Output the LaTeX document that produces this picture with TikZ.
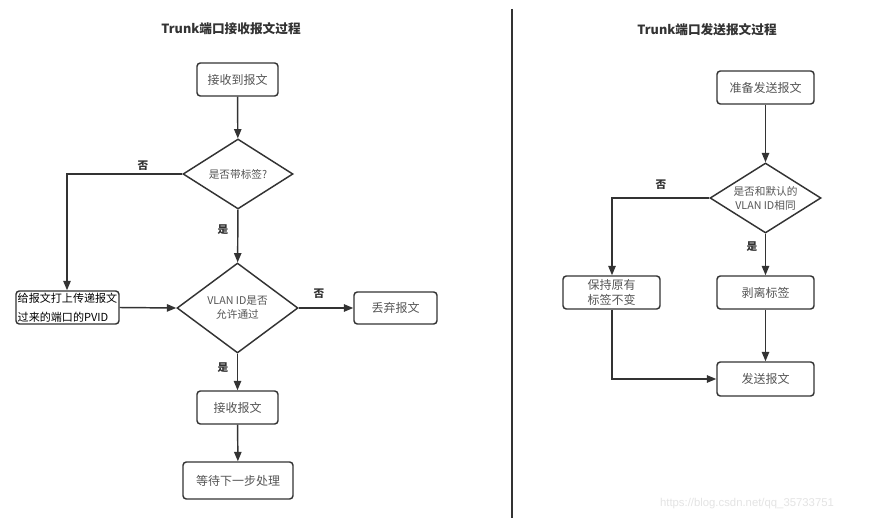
\documentclass[tikz,border=0pt]{standalone}
\usepackage{fontspec}
\setmainfont{Noto Sans CJK SC}
\newfontfamily\latinfont{Liberation Sans}
\usetikzlibrary{arrows.meta,shapes.geometric}
\definecolor{linegray}{HTML}{333333}
\definecolor{txtgray}{HTML}{555555}
\definecolor{markgray}{HTML}{E4E4E4}
\begin{document}
\begin{tikzpicture}[x=0.75pt,y=-0.75pt,
  flow/.style={draw=linegray,line width=1.1pt},
  arr/.style={flow,-{Triangle[length=7pt,width=5.5pt]}},
  stepbox/.style={draw=linegray,line width=1.1pt,rounded corners=2.5pt,
    inner sep=0pt,text=txtgray,font=\fontsize{9}{12}\selectfont,align=center},
  decide/.style={diamond,draw=linegray,line width=1.1pt,inner sep=0pt,
    text=txtgray,font=\fontsize{8}{10.5}\selectfont,align=center},
  lbl/.style={text=linegray,font=\fontsize{8}{10}\selectfont\bfseries},
  ttl/.style={text=linegray,font=\fontsize{9.5}{12}\selectfont\bfseries}]
\useasboundingbox[fill=white] (0,0) rectangle (874,527);

% ---- left: receiving ----
\node[ttl] (t1) at (231,29) {Trunk端口接收报文过程};
\node[stepbox,minimum width=81*0.75pt,minimum height=33*0.75pt] (recv) at (237.5,79.5) {接收到报文};
\node[decide,aspect=1.57,minimum width=110*0.75pt,minimum height=70*0.75pt] (tag) at (238,174) {是否带标签?};
\node[decide,aspect=1.34,minimum width=121*0.75pt,minimum height=90*0.75pt] (vlan) at (237.5,308) {VLAN ID是否\\允许通过};
\node[stepbox,minimum width=103*0.75pt,minimum height=33*0.75pt,text=black,
  font=\fontsize{8.3}{14}\selectfont,align=left] (pvid) at (67.5,307.5) {给报文打上传递报文\\过来的端口的PVID};
\node[stepbox,minimum width=83*0.75pt,minimum height=32*0.75pt] (drop) at (395.5,308) {丢弃报文};
\node[stepbox,minimum width=81*0.75pt,minimum height=33*0.75pt] (accept) at (237.5,407.5) {接收报文};
\node[stepbox,minimum width=110*0.75pt,minimum height=37*0.75pt] (wait) at (238,480.5) {等待下一步处理};
\coordinate (c1) at (67,174);

\draw[arr] (recv) -- (tag);
\draw[arr] (tag.west) -- (c1) -- (pvid.north -| c1);
\draw[arr] (tag) -- (vlan);
\draw[arr] (pvid.east) -- (vlan.west);
\draw[arr] (vlan.east) -- (drop.west);
\draw[arr] (vlan) -- (accept);
\draw[arr] (accept) -- (wait);

\node[lbl] (n1) at (143,166) {否};
\node[lbl] (y1) at (223,230) {是};
\node[lbl] (n2) at (319,294) {否};
\node[lbl] (y2) at (223,368) {是};

% ---- divider ----
\coordinate (d1) at (512,9);
\coordinate (d2) at (512,518);
\draw[draw=linegray,line width=1.1pt] (d1) -- (d2);

% ---- right: sending ----
\node[ttl] (t2) at (707,30) {Trunk端口发送报文过程};
\node[stepbox,minimum width=97*0.75pt,minimum height=33*0.75pt] (prep) at (765.5,87.5) {准备发送报文};
\node[decide,aspect=1.59,minimum width=111*0.75pt,minimum height=70*0.75pt] (same) at (765.5,198) {是否和默认的\\VLAN ID相同};
\node[stepbox,minimum width=97*0.75pt,minimum height=33*0.75pt,font=\fontsize{9}{11}\selectfont] (keep) at (611.5,292.5) {保持原有\\标签不变};
\node[stepbox,minimum width=97*0.75pt,minimum height=33*0.75pt] (strip) at (765.5,292.5) {剥离标签};
\node[stepbox,minimum width=97*0.75pt,minimum height=34*0.75pt] (send) at (765.5,379) {发送报文};
\coordinate (c2) at (612,198);

\draw[arr] (prep) -- (same);
\draw[arr] (same.west) -- (c2) -- (keep.north -| c2);
\draw[arr] (same) -- (strip);
\draw[arr] (strip) -- (send);
\draw[arr] (keep.south -| c2) |- (send.west);

\node[lbl] (n3) at (661,185) {否};
\node[lbl] (y3) at (752,247) {是};

\node[text=markgray,font=\latinfont\fontsize{8.5}{10}\selectfont] (mark) at (747,504) {https://blog.csdn.net/qq\_35733751};
\end{tikzpicture}
\end{document}
